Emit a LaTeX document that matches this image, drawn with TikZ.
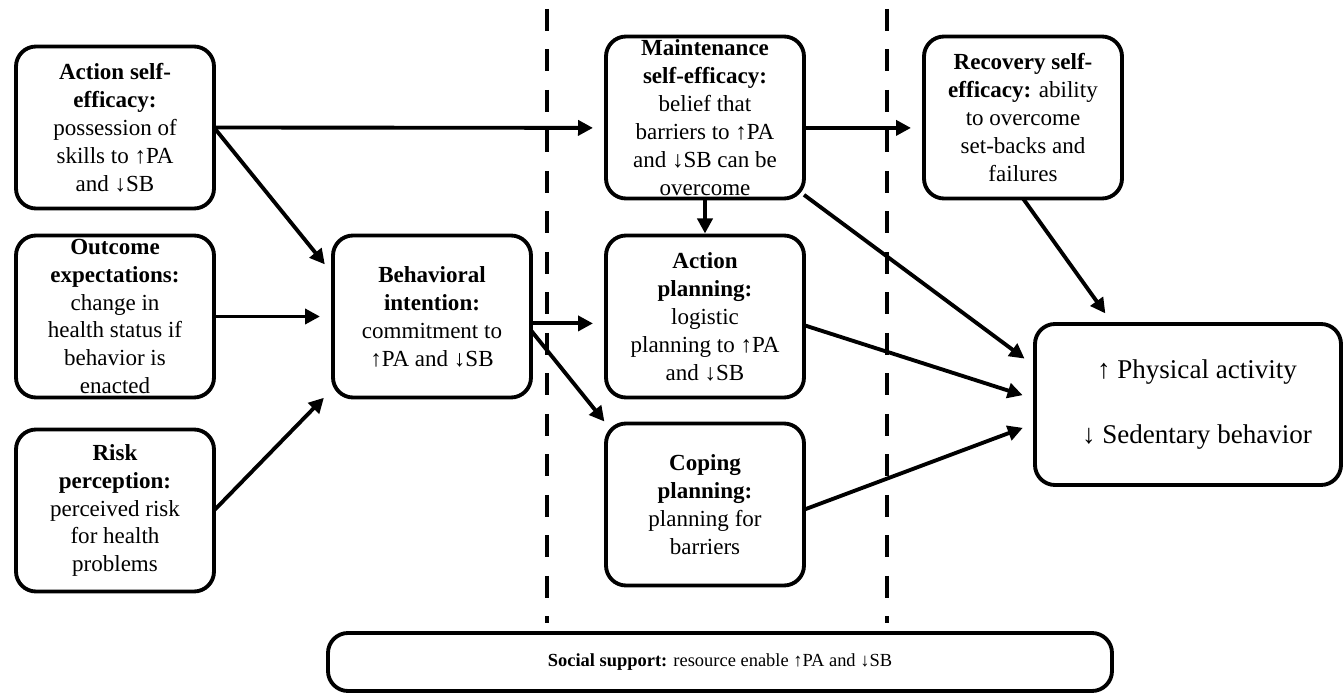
\documentclass[tikz,border=0pt]{standalone}
\usepackage{fontspec}
\setmainfont{Liberation Serif}
\usetikzlibrary{arrows.meta, positioning, calc}

\begin{document}
\begin{tikzpicture}[>={Triangle[length=0.3cm, width=0.3cm]}, node distance=0.54cm, line width=2.2pt]

\useasboundingbox (0,0) rectangle (26.86,-13.92);

% --- Style Definitions ---
% Construct boxes (rounded, bold heading)
\tikzstyle{stage_box}=[rectangle, draw, rounded corners=0.4cm, minimum width=3.96cm, minimum height=3.24cm, inner sep=0pt, outer sep=0pt, align=center, font=\fontsize{13.1}{15.9}\selectfont]
% Outcome box (PA / SB)
\tikzstyle{result_box}=[stage_box, minimum width=6.12cm, minimum height=3.22cm, font=\fontsize{15.4}{37}\selectfont]
% Social support bar along the bottom
\tikzstyle{support_box}=[stage_box, minimum width=15.68cm, minimum height=1.16cm, font=\fontsize{10.5}{12.6}\selectfont]

% Arrow Styles
\tikzstyle{path_arrow}=[->, shorten >=0.26cm]
\tikzstyle{phase_line}=[line width=2.6pt, dash pattern=on 0.44cm off 0.37cm]

% --- Phase separators ---
\draw[phase_line] (10.94,-0.18) -- (10.94,-12.46);
\draw[phase_line] (17.74,-0.18) -- (17.74,-12.46);

% --- Define Nodes ---

% Motivational phase
\node[stage_box] (ase) at (2.30,-2.55) {\textbf{Action self-}\\\textbf{efficacy:}\\possession of\\skills to ↑PA\\and ↓SB};
\node[stage_box, below=0.54cm of ase] (oe) {\textbf{Outcome}\\\textbf{expectations:}\\change in\\health status if\\behavior is\\enacted};
\node[stage_box, below=0.64cm of oe] (rp) {\textbf{Risk}\\\textbf{perception:}\\perceived risk\\for health\\problems};
\node[stage_box, right=2.38cm of oe] (bi) {\textbf{Behavioral}\\\textbf{intention:}\\commitment to\\↑PA and ↓SB};

% Volitional phase
\node[stage_box, right=1.5cm of bi] (ap) {\textbf{Action}\\\textbf{planning:}\\logistic\\planning to ↑PA\\and ↓SB};
\node[stage_box, above=0.74cm of ap] (mse) {\textbf{Maintenance}\\\textbf{self-efficacy:}\\belief that\\barriers to ↑PA\\and ↓SB can be\\overcome};
\node[stage_box, below=0.52cm of ap] (cp) {\textbf{Coping}\\\textbf{planning:}\\planning for\\barriers};
\node[stage_box, right=2.4cm of mse] (rse) {\textbf{Recovery self-}\\\textbf{efficacy:} ability\\to overcome\\set-backs and\\failures};

% Outcomes and support
\node[result_box] (out) at (23.76,-8.09) {\hspace*{0.36cm}↑ Physical activity\\\hspace*{0.36cm}↓ Sedentary behavior};
\node[support_box] (ss) at (14.40,-13.24) {\textbf{Social support:} resource enable ↑PA and ↓SB};

% --- Draw Connections ---

% 1. Into behavioral intention
\draw[path_arrow] (ase.east) -- (bi.157);
\draw[path_arrow] (oe.east) -- (bi.west);
\draw[path_arrow] (rp.east) -- (bi.216);

% 2. Self-efficacy chain
\draw[path_arrow] (ase.east) -- (mse.186);
\draw[path_arrow] (mse.-6) -- (rse.186);
\draw[path_arrow, shorten >=0.04cm] (mse.south) -- (ap.north);

% 3. Intention to planning
\draw[path_arrow] (bi.-4) -- (ap.184);
\draw[path_arrow, shorten >=0.05cm] (bi.-8) -- (cp.north west);

% 4. Into behavior change
\draw[path_arrow] (mse.-38) -- (out.166);
\draw[path_arrow] (ap.-5) -- (out.178);
\draw[path_arrow] (cp.-3) -- (out.187);
\draw[path_arrow] (rse.south) -- (out.133);

\end{tikzpicture}
\end{document}
